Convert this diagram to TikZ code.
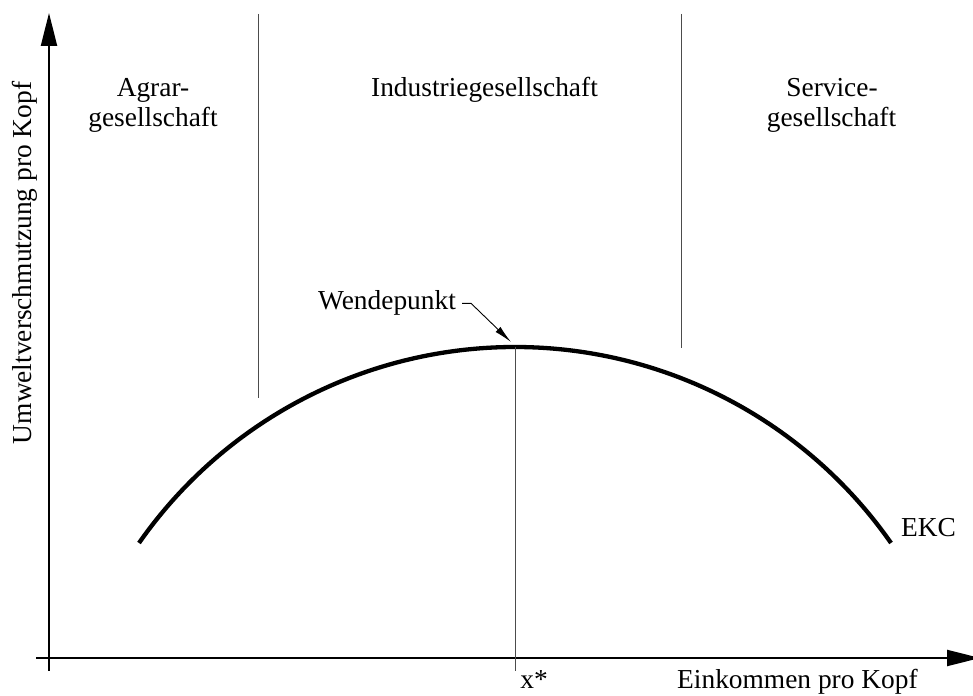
\documentclass[tikz,border=0pt]{standalone}
\usepackage{fontspec}
\setmainfont{Liberation Serif}
\usetikzlibrary{arrows.meta}
\begin{document}
\begin{tikzpicture}[x=1pt,y=1pt,
  lbl/.style={font=\fontsize{27.4}{30}\selectfont, inner sep=0pt, anchor=base},
  axis/.style={line width=2.2pt, -{Triangle[length=33pt,width=16pt]}},
  divider/.style={line width=1pt, draw=black!70},
  pointer/.style={line width=0.9pt, -{Latex[length=18pt,width=7pt]}},
  ekc/.style={line width=4.3pt}]
\path[clip] (0,0) rectangle (973,695);
% axes
\coordinate (yb) at (49,24);
\coordinate (yt) at (49,682);
\coordinate (xl) at (36,37);
\coordinate (xr) at (980,37);
\draw[axis] (yb) -- (yt);
\draw[axis] (xl) -- (xr);
% dividers
\coordinate (d1t) at (258,681);
\coordinate (d1b) at (258,297);
\coordinate (d2t) at (681,681);
\coordinate (d2b) at (681,347);
\draw[divider] (d1t) -- (d1b);
\draw[divider] (d2t) -- (d2b);
% curve
\coordinate (ekcL) at (139,152);
\coordinate (peak) at (515,348);
\coordinate (xs) at (515,24);
\draw[ekc] (ekcL) arc[start angle=145.06, end angle=34.94, radius=458.7];
\draw[divider] (peak) -- (xs);
% labels
\node[lbl] (agrar1) at (153,598) {Agrar-};
\node[lbl] (agrar2) at (153,568) {gesellschaft};
\node[lbl] (indu) at (484.5,598) {Industriegesellschaft};
\node[lbl] (serv1) at (832,598) {Service-};
\node[lbl] (serv2) at (831.5,568) {gesellschaft};
\node[lbl] (wp) at (387,385) {Wendepunkt};
\node[lbl] (ekclbl) at (928.5,158) {EKC};
\node[lbl] (xstar) at (534,6) {x*};
\node[lbl, anchor=base west] (xlbl) at (677,6) {Einkommen pro Kopf};
\node[lbl, rotate=90] (ylbl) at (32,432) {Umweltverschmutzung pro Kopf};
% pointer
\coordinate (tip) at (511,353);
\draw[pointer] ([xshift=6pt]wp.east) -- ++(9,0) -- (tip);
\end{tikzpicture}
\end{document}
